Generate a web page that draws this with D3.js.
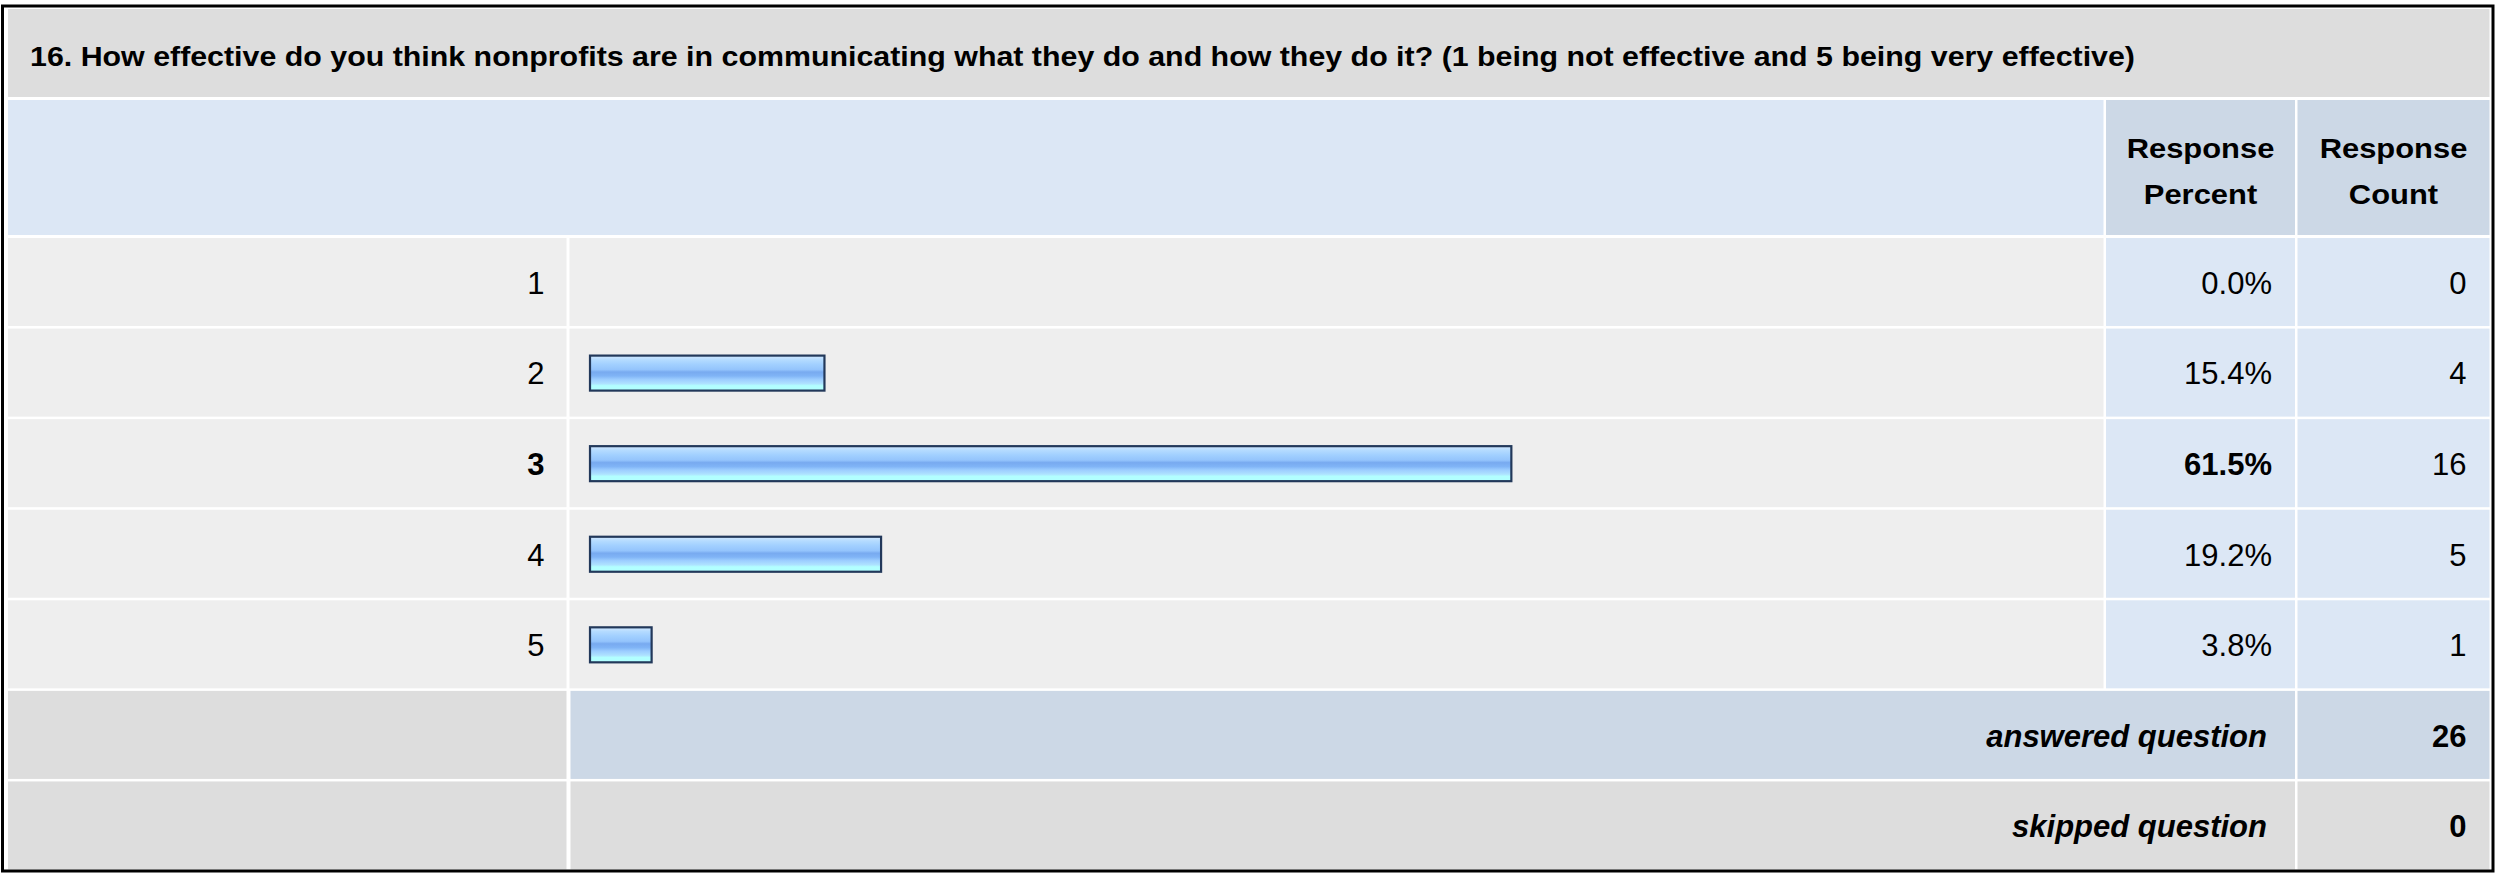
<!DOCTYPE html>
<html>
<head>
<meta charset="utf-8">
<script src="https://cdn.jsdelivr.net/npm/d3@7"></script>
<style>
  body { margin: 0; background: #fff; }
  svg text { font-family: "Liberation Sans", Arial, sans-serif; fill: #000; }
</style>
</head>
<body>
<svg id="chart"></svg>
<script>
const title = "16. How effective do you think nonprofits are in communicating what they do and how they do it? (1 being not effective and 5 being very effective)";
const categories = ["1", "2", "3", "4", "5"];
const percents = [0.0, 15.4, 61.5, 19.2, 3.8];
const counts = [0, 4, 16, 5, 1];
const headerLines = [["Response", "Percent"], ["Response", "Count"]];
const summaryLabels = ["answered question", "skipped question"];
const summaryValues = [26, 0];

const width = 2517;
const height = 873;

// column edges
const colLabel = [8, 566.5];
const colBar = [569.5, 2103.5];
const colPct = [2106, 2295];
const colCnt = [2297.5, 2489.5];

// the bold headings in the original are drawn a bit wider than Arial
const wide = 1.125;

const rows = categories.map((c, i) => ({cat: c, pct: percents[i], count: counts[i]}));
const maxPct = d3.max(percents);

// rows scale
const y = d3.scaleBand()
    .domain([...categories, "answered", "skipped"])
    .range([238, 869.5])
    .paddingInner(0.028);

// bar scale (the bar's frame sticks out a few px left of zero)
const x = d3.scaleLinear().domain([0, 100]).range([595, 2085]);
const barLip = 5;

const svg = d3.select("svg#chart")
    .attr("width", width)
    .attr("height", height);

svg.append("rect")
    .attr("width", width).attr("height", height)
    .attr("fill", "#fff");

// gradient for the bars
const grad = svg.append("defs").append("linearGradient")
    .attr("id", "barGrad")
    .attr("x1", 0).attr("x2", 0).attr("y1", 0).attr("y2", 1);
[
    [0, "#d2e8ff"], [0.12, "#b4dbff"], [0.25, "#a2d0ff"], [0.4, "#94c4fc"],
    [0.47, "#78aaf0"], [0.58, "#80b4f6"], [0.68, "#9ccdff"], [0.8, "#aee2ff"],
    [0.86, "#b2ffff"], [1, "#b2ffff"]
].forEach(([o, c]) => grad.append("stop").attr("offset", o).attr("stop-color", c));

function cell(x0, x1, y0, h, fill) {
    svg.append("rect")
        .attr("x", x0).attr("y", y0)
        .attr("width", x1 - x0).attr("height", h)
        .attr("fill", fill);
}

// title band
cell(8, colCnt[1], 9, 88, "#dddddd");
svg.append("text")
    .attr("transform", `translate(30,66) scale(${wide},1)`)
    .attr("font-size", 27)
    .attr("font-weight", "bold")
    .text(title);

// header band
cell(colLabel[0], colBar[1], 100, 135, "#dce7f5");
cell(colPct[0], colPct[1], 100, 135, "#ccd8e6");
cell(colCnt[0], colCnt[1], 100, 135, "#ccd8e6");
[colPct, colCnt].forEach((c, i) => {
    const t = svg.append("text")
        .attr("transform", `translate(${(c[0] + c[1]) / 2},158) scale(${wide},1)`)
        .attr("text-anchor", "middle")
        .attr("font-size", 27.5)
        .attr("font-weight", "bold");
    headerLines[i].forEach((line, j) => {
        t.append("tspan")
            .attr("x", 0)
            .attr("y", j * 46)
            .text(line);
    });
});

// answer rows
const rowG = svg.selectAll(".row")
    .data(rows)
    .enter()
    .append("g")
        .attr("class", "row");

rowG.each(function(d) {
    const y0 = y(d.cat), h = y.bandwidth();
    cell(colLabel[0], colLabel[1], y0, h, "#eeeeee");
    cell(colBar[0], colBar[1], y0, h, "#eeeeee");
    cell(colPct[0], colPct[1], y0, h, "#dce7f5");
    cell(colCnt[0], colCnt[1], y0, h, "#dce7f5");
});

const valueText = (xPos, fn, bold) => svg.selectAll(null)
    .data(rows)
    .enter()
    .append("text")
        .attr("x", xPos)
        .attr("y", d => y(d.cat) + y.bandwidth() / 2)
        .attr("dy", "0.38em")
        .attr("text-anchor", "end")
        .attr("font-size", 31)
        .attr("font-weight", d => bold && d.pct === maxPct ? "bold" : "normal")
        .text(fn);

valueText(colLabel[1] - 22, d => d.cat, true);
valueText(colPct[1] - 23, d => d.pct.toFixed(1) + "%", true);
valueText(colCnt[1] - 23, d => d.count, false);

// bars
svg.selectAll(".bar")
    .data(rows.filter(d => d.pct > 0))
    .enter()
    .append("rect")
        .attr("class", "bar")
        .attr("x", x(0) - barLip)
        .attr("y", d => y(d.cat) + y.bandwidth() / 2 - 17)
        .attr("width", d => x(d.pct) - x(0) + barLip)
        .attr("height", 35)
        .attr("fill", "url(#barGrad)")
        .attr("stroke", "#22385a")
        .attr("stroke-width", 2.2);

// summary rows
const summaryKeys = ["answered", "skipped"];
summaryKeys.forEach((k, i) => {
    const y0 = y(k), h = y.bandwidth();
    const fill = i === 0 ? "#ccd8e6" : "#dddddd";
    cell(colLabel[0], colLabel[1], y0, h, "#dddddd");
    cell(colBar[0] + 1, colPct[1], y0, h, fill);
    cell(colCnt[0], colCnt[1], y0, h, fill);
    svg.append("text")
        .attr("x", colPct[1] - 28)
        .attr("y", y0 + h / 2)
        .attr("dy", "0.38em")
        .attr("text-anchor", "end")
        .attr("font-size", 31)
        .attr("font-weight", "bold")
        .attr("font-style", "italic")
        .text(summaryLabels[i]);
    svg.append("text")
        .attr("x", colCnt[1] - 23)
        .attr("y", y0 + h / 2)
        .attr("dy", "0.38em")
        .attr("text-anchor", "end")
        .attr("font-size", 31)
        .attr("font-weight", "bold")
        .text(summaryValues[i]);
});

// outer frame
svg.append("rect")
    .attr("x", 2.5).attr("y", 6)
    .attr("width", 2490.5).attr("height", 865)
    .attr("fill", "none")
    .attr("stroke", "#000")
    .attr("stroke-width", 3);
</script>
</body>
</html>
